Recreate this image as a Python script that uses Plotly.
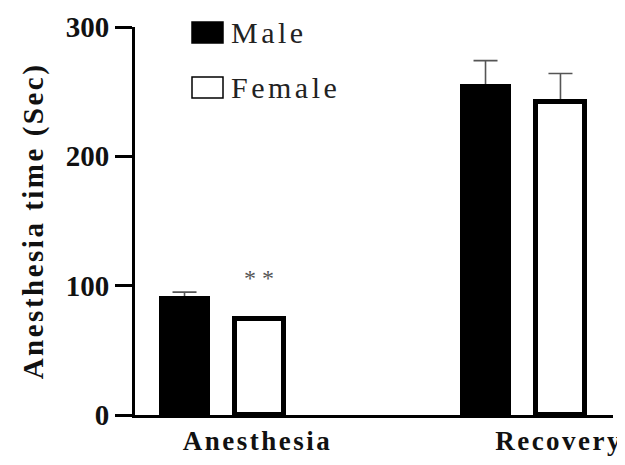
import plotly.graph_objects as go

categories = ["Anesthesia", "Recovery"]
series_names = ["Male", "Female"]
male_values = [91, 255]
male_err = [4, 19]
female_values = [74, 242]
female_err = [2, 22]
significance = ["* *", ""]
y_ticks = [0, 100, 200, 300]

x_pos = list(range(len(categories)))
BAR_W = 0.163
SPACING = 0.249

FONT = "Liberation Serif"


def spaced(s, px):
    return f'<span style="letter-spacing:{px}px">{s}</span>'


def bar_styles(fill, lw):
    return dict(color=fill, line=dict(color="black", width=lw))


fig = go.Figure()
specs = [
    (series_names[0], male_values, male_err, -SPACING / 2 - BAR_W / 2, "black", 2),
    (series_names[1], female_values, female_err, SPACING / 2 - BAR_W / 2, "white", 5),
]
# bars with upper error bars
for name, vals, errs, off, fill, lw in specs:
    fig.add_trace(go.Bar(
        x=x_pos, y=vals, name=name, width=BAR_W, offset=off,
        marker=bar_styles(fill, lw),
        error_y=dict(type="data", symmetric=False, array=errs,
                     arrayminus=[0] * len(errs), color="#555555",
                     thickness=1.6, width=12),
        showlegend=False, hoverinfo="skip",
    ))
# same bars again on top, hiding the lower caps
for name, vals, errs, off, fill, lw in specs:
    fig.add_trace(go.Bar(
        x=x_pos, y=vals, name=name, width=BAR_W, offset=off,
        marker=bar_styles(fill, lw), showlegend=False,
    ))

# significance markers above female bars
for i, s in enumerate(significance):
    if s:
        fig.add_annotation(x=x_pos[i] + SPACING / 2, y=female_values[i] + female_err[i] + 30,
                           xref="x", yref="y", text=s, showarrow=False,
                           font=dict(family=FONT, size=24, color="#555555"))

# custom legend (screen positions shifted by 8px page margin)
PL, PT, PW, PH = 127, 19, 478, 388
legend_items = [(series_names[0], "black"), (series_names[1], "white")]
leg_top = [22, 77]
for (name, fill), top in zip(legend_items, leg_top):
    top_f = top - 8
    fig.add_shape(type="rect", xref="paper", yref="paper",
                  x0=(192 - 8 - PL) / PW, x1=(223 - 8 - PL) / PW,
                  y0=1 - (top_f + 21 - PT) / PH, y1=1 - (top_f - PT) / PH,
                  fillcolor=fill, line=dict(color="black", width=1.5))
    fig.add_annotation(xref="paper", yref="paper",
                       x=(229 - 8 - PL) / PW, y=1 - (top_f + 10.5 - PT) / PH,
                       xanchor="left", yanchor="middle", text=spaced(name, 3.5), showarrow=False,
                       font=dict(family=FONT, size=30, color="#222222"))

fig.update_layout(
    width=625, height=465,
    margin=dict(l=PL, r=625 - PL - PW, t=PT, b=465 - PT - PH, autoexpand=False),
    paper_bgcolor="white", plot_bgcolor="white",
    bargap=0, barmode="overlay",
    font=dict(family=FONT, color="black"),
    xaxis=dict(
        range=[-0.289, 1.299],
        tickmode="array", tickvals=[0.118, 1.12],
        ticktext=[f"<b>{spaced(c, 2.5)}</b>" for c in categories],
        ticks="", showline=True, linecolor="black", linewidth=3,
        showgrid=False, zeroline=False,
        tickfont=dict(family=FONT, size=27, color="#111111"),
    ),
    yaxis=dict(
        range=[0, 300], tickvals=y_ticks, ticktext=[f"<b>{v}</b>" for v in y_ticks],
        ticks="outside", ticklen=17, tickwidth=3, tickcolor="black",
        showline=True, linecolor="black", linewidth=3,
        showgrid=False, zeroline=False,
        tickfont=dict(family=FONT, size=29, color="#111111"),
        title=dict(text=f"<b>{spaced('Anesthesia time (Sec)', 2.5)}</b>", standoff=14,
                   font=dict(family=FONT, size=29, color="#111111")),
    ),
)

fig.write_html("out.html")
